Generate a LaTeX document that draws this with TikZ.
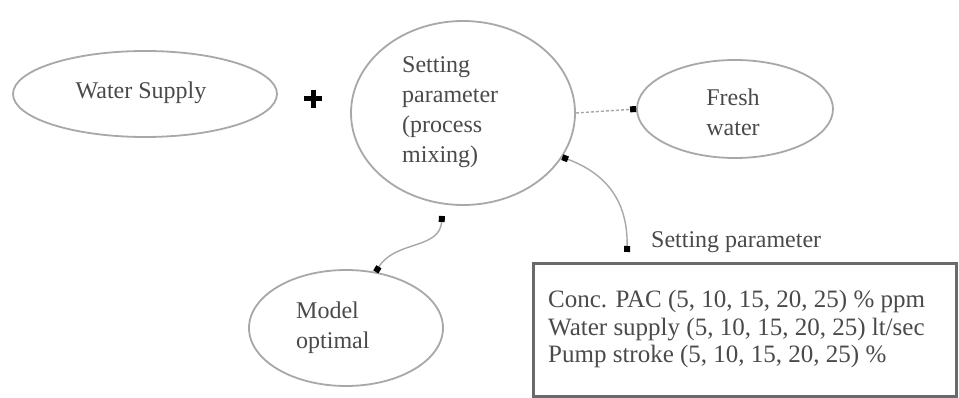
\documentclass[tikz,border=0pt]{standalone}
\usepackage{fontspec}
\setmainfont{Liberation Serif}
\usetikzlibrary{arrows.meta,shapes.geometric}
\definecolor{edgegray}{HTML}{A8A8A8}
\definecolor{txtgray}{HTML}{4A4A4A}
\definecolor{boxgray}{HTML}{6A6A6A}
\begin{document}
\begin{tikzpicture}[x=1pt,y=-1pt,
  oval/.style={ellipse,draw=edgegray,line width=1.8pt,inner sep=0pt},
  txt/.style={font=\fontsize{24}{30}\selectfont,text=txtgray,inner sep=0pt},
  conn/.style={draw=edgegray,line width=1.4pt}]
\useasboundingbox (0,0) rectangle (959,398);
\fill[white] (0,0) rectangle (959,398);

% ovals
\node[oval,minimum width=264pt,minimum height=86pt] (ws) at (145,94) {};
\node[txt] (wstext) at (141,93) {Water Supply};

\node[oval,minimum width=224pt,minimum height=184pt] (sp) at (463,113) {};
\node[txt,anchor=west,align=left] (sptext) at (402,112) {Setting\\parameter\\(process\\mixing)};

\node[oval,minimum width=196pt,minimum height=98pt] (fw) at (735,109) {};
\node[txt,align=center] (fwtext) at (733,112) {Fresh\\water};

\node[oval,minimum width=194pt,minimum height=116pt] (mo) at (346,328) {};
\node[txt,anchor=west,align=left] (motext) at (296,328) {Model\\optimal};

% plus sign
\node[inner sep=0pt,minimum size=17pt] (plus) at (313,99) {};
\draw[line width=5pt,black] (plus.north) -- (plus.south) (plus.west) -- (plus.east);

% parameter box
\node[draw=boxgray,line width=2.6pt,minimum width=423pt,minimum height=133pt,anchor=north west,inner sep=0pt] (box) at (532,262) {};
\node[txt,anchor=west,align=left,font=\fontsize{25}{27.5}\selectfont] (boxtext) at (548,329)
  {Conc. PAC (5, 10, 15, 20, 25) \% ppm\\Water supply (5, 10, 15, 20, 25) lt/sec\\Pump stroke (5, 10, 15, 20, 25) \%};
\node[txt,anchor=west] (splabel) at (651,242) {Setting parameter};
\coordinate (sptip) at (627,252);
\coordinate (mostart) at (442,216);

% connectors
\draw[conn,dash pattern=on 3pt off 2pt,-{Square[length=6pt,width=6pt,black]}] (sp.east) -- (fw.west);
\draw[conn,{Square[length=6pt,width=6pt,black]}-{Square[length=6pt,width=6pt,black]}]
  (sp.-24) .. controls (610,175) and (628,205) .. (sptip);
\draw[conn,{Square[length=6pt,width=6pt,black]}-{Square[length=6pt,width=6pt,black]}]
  (mostart) .. controls (440,250) and (395,240) .. (mo.62);
\end{tikzpicture}
\end{document}
